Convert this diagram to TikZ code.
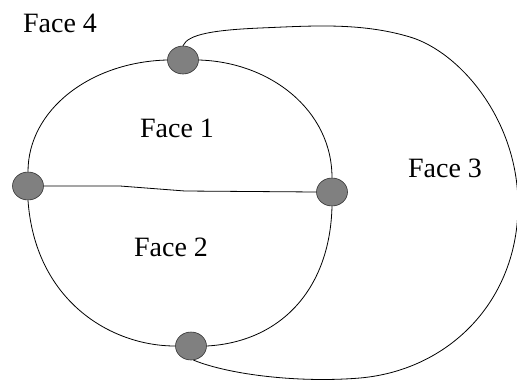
\documentclass[tikz,border=0pt]{standalone}
\usepackage{fontspec}
\setmainfont{Liberation Serif}
\usetikzlibrary{shapes.geometric}
\begin{document}
\begin{tikzpicture}[x=1pt,y=-1pt,
  vertex/.style={ellipse,draw=black!80,line width=0.6pt,fill=black!50,minimum width=31pt,minimum height=28pt,inner sep=0pt},
  edge/.style={draw=black,line width=0.8pt},
  facelabel/.style={anchor=base,inner sep=0pt,font=\fontsize{28}{30}\selectfont}]
\useasboundingbox (0,0) rectangle (517,381);
\node[vertex] (A) at (183,60) {};
\node[vertex] (B) at (28,186) {};
\node[vertex] (C) at (332,192) {};
\node[vertex] (D) at (191,346) {};
\node[facelabel] (f4) at (60,32) {Face 4};
\node[facelabel] (f1) at (177,137) {Face 1};
\node[facelabel] (f3) at (445,177) {Face 3};
\node[facelabel] (f2) at (171,256) {Face 2};
\draw[edge] (A.west) .. controls (90,62) and (28,110) .. (B.north);
\draw[edge] (A.east) .. controls (270,62) and (332,110) .. (C.north);
\draw[edge] (B.east) -- (120,186) -- (185,191) -- (C.west);
\draw[edge] (B.south) .. controls (35,300) and (110,346) .. (D.west);
\draw[edge] (C.south) .. controls (330,290) and (280,342) .. (D.east);
\draw[edge] (A.north) .. controls (188,34) and (215,30) .. (260,28)
  .. controls (310,26) and (360,22) .. (410,37)
  .. controls (460,52) and (518,120) .. (518,205)
  .. controls (518,300) and (450,370) .. (360,378)
  .. controls (300,383) and (230,375) .. (D.-80);
\end{tikzpicture}
\end{document}
